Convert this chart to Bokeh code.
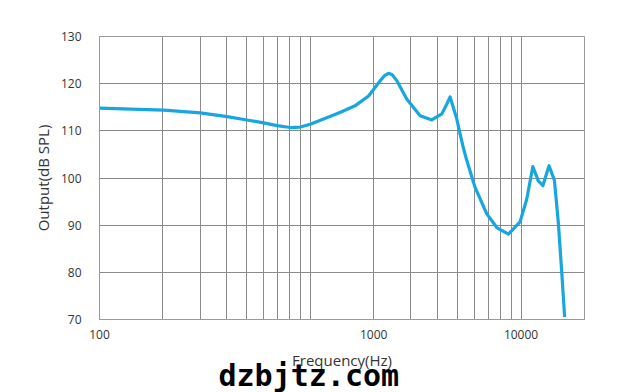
from bokeh.plotting import figure
from bokeh.models import FixedTicker, Title
from bokeh.embed import file_html
from bokeh.resources import INLINE

freq_hz = [100, 202, 301, 403, 501, 601, 695, 804, 897, 1000, 1156, 1300, 1400,
           1630, 1890, 2147, 2250, 2350, 2450, 2575, 2873, 3321, 3773, 4210, 4445,
           4608, 4957, 5140, 5331, 5529, 6053, 6878, 7671, 8710, 9890, 10640,
           11370, 12080, 12700, 13575, 14400, 15030, 15600, 16100]
output_db = [114.8, 114.4, 113.8, 113.0, 112.3, 111.7, 111.1, 110.7, 110.8, 111.4,
             112.5, 113.4, 114.0, 115.3, 117.4, 120.6, 121.7, 122.2, 121.9, 120.6,
             116.7, 113.2, 112.3, 113.6, 115.7, 117.2, 112.5, 109.3, 106.3, 103.7,
             98.0, 92.4, 89.5, 88.1, 90.7, 95.5, 102.4, 99.4, 98.4, 102.6, 99.5,
             90.5, 80.0, 70.5]

x_label_ticks = [100, 2000, 10000]
x_label_text = {100: "100", 2000: "1000", 10000: "10000"}
x_grid = [100, 200, 300, 400, 500, 600, 700, 800, 900, 1000,
          2000, 3000, 4000, 5000, 6000, 7000, 8000, 9000, 10000, 20000]
y_ticks = [70, 80, 90, 100, 110, 120, 130]

p = figure(width=623, height=392, x_axis_type="log", x_range=(100, 20000),
           y_range=(70, 130), output_backend="svg", toolbar_location=None,
           min_border_left=99, min_border_right=39, min_border_top=36,
           min_border_bottom=73)
p.background_fill_color = "white"
p.border_fill_color = "white"
p.outline_line_color = "#999999"

p.line(freq_hz, output_db, line_color="#17a6df", line_width=3.2, line_join="round")

font = "Open Sans"
p.xaxis.ticker = FixedTicker(ticks=x_label_ticks)
p.xaxis.major_label_overrides = x_label_text
p.yaxis.ticker = FixedTicker(ticks=y_ticks)
for ax in (p.xaxis[0], p.yaxis[0]):
    ax.axis_line_color = "#999999"
    ax.major_tick_line_color = None
    ax.minor_tick_line_color = None
    ax.major_label_text_font = font
    ax.major_label_text_font_size = "12px"
    ax.major_label_text_color = "#333333"
    ax.axis_label_text_font = font
    ax.axis_label_text_font_size = "15px"
    ax.axis_label_text_font_style = "normal"
    ax.axis_label_text_color = "#333333"
p.xaxis.axis_label = "Frequency(Hz)"
p.yaxis.axis_label = "Output(dB SPL)"
p.xaxis.major_label_standoff = 4
p.yaxis.major_label_standoff = 12
p.xaxis.axis_label_standoff = 8
p.yaxis.axis_label_standoff = 5

p.xgrid.ticker = FixedTicker(ticks=x_grid)
p.ygrid.ticker = FixedTicker(ticks=y_ticks)
p.xgrid.grid_line_color = "#8a8a8a"
p.ygrid.grid_line_color = "#8a8a8a"

wm = Title(text="dzbjtz.com", text_font="DejaVu Sans Mono", text_font_style="bold",
           text_font_size="30px", text_color="black", align="left", offset=119,
           standoff=-40)
p.add_layout(wm, "below")

open("out.html", "w").write(file_html(p, INLINE))
